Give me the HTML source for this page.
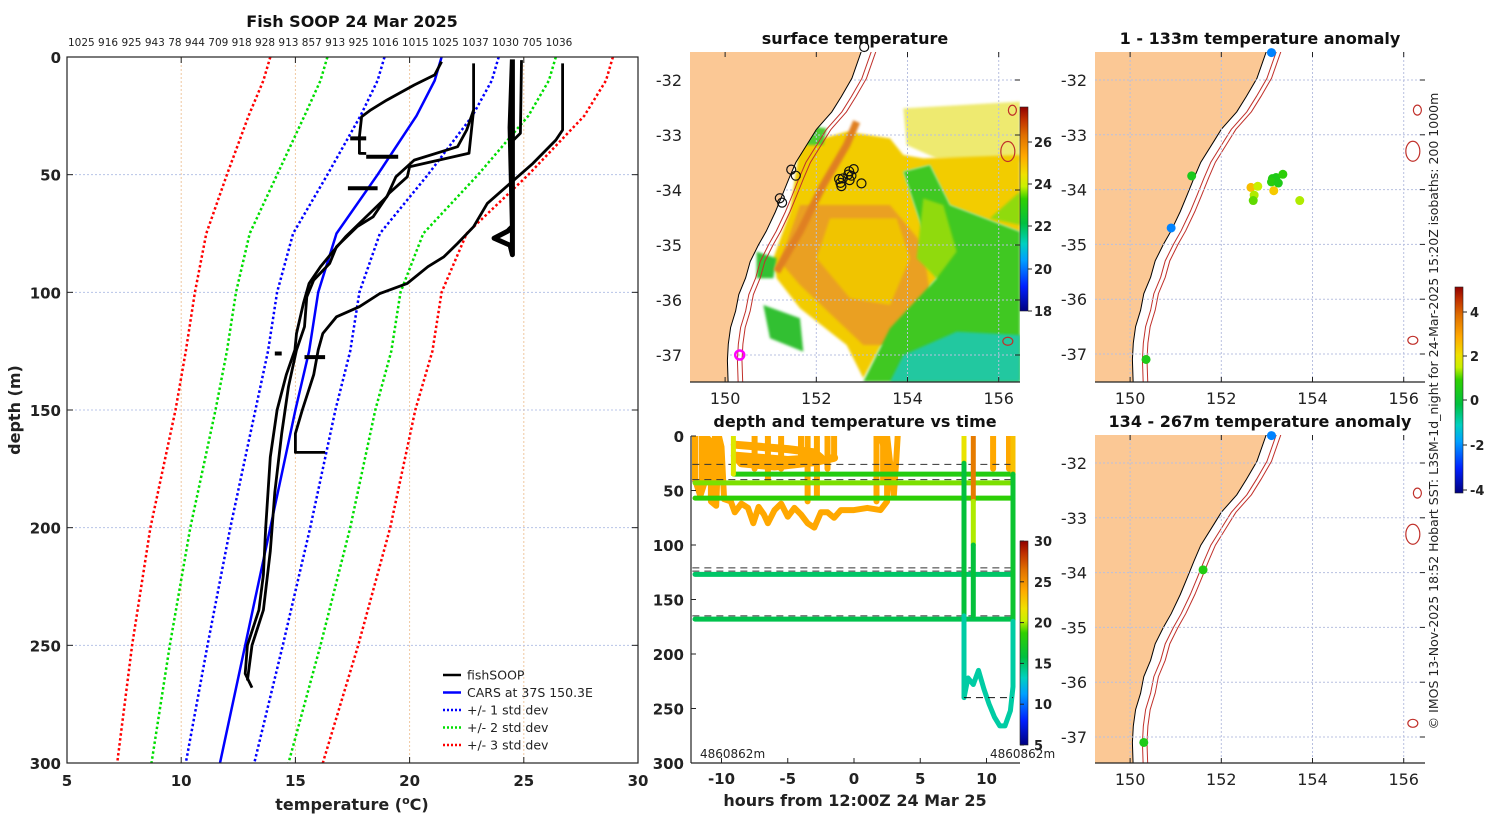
<!DOCTYPE html>
<html><head><meta charset="utf-8"><title>Fish SOOP 24 Mar 2025</title>
<style>
html,body{margin:0;padding:0;background:#fff;}
svg{display:block;font-family:"DejaVu Sans","Liberation Sans",sans-serif;}
.tk{font-size:15px;font-weight:bold;fill:#222;}
.mt{font-size:15px;fill:#222;}
.ttl{font-size:16px;font-weight:bold;fill:#111;}
</style></head>
<body>
<svg id="fig" width="1500" height="820" viewBox="0 0 1500 820">
<defs>
<linearGradient id="cmap" x1="0" y1="1" x2="0" y2="0">
<stop offset="0" stop-color="#000080"/><stop offset="0.12" stop-color="#0020ff"/>
<stop offset="0.25" stop-color="#00a0ff"/><stop offset="0.33" stop-color="#00d0c0"/>
<stop offset="0.43" stop-color="#00c040"/><stop offset="0.55" stop-color="#30d000"/>
<stop offset="0.61" stop-color="#c8f000"/><stop offset="0.67" stop-color="#f0e000"/>
<stop offset="0.76" stop-color="#ffa800"/><stop offset="0.86" stop-color="#e07000"/>
<stop offset="0.94" stop-color="#c03000"/><stop offset="1" stop-color="#900000"/>
</linearGradient>
<filter id="blur"><feGaussianBlur stdDeviation="4"/></filter>
<clipPath id="clip2"><rect x="690" y="52" width="330" height="330"/></clipPath>
<clipPath id="clip4"><rect x="1095" y="52" width="330" height="330"/></clipPath>
<clipPath id="clip5"><rect x="1095" y="435" width="330" height="328"/></clipPath>
<clipPath id="clip3"><rect x="691" y="436" width="329" height="327"/></clipPath>
</defs>
<g id="layer"></g>
</svg>
<script>
// ---------------- data: profile chart ----------------
const cDepths=[0,10,25,50,75,100,125,150,200,250,300];
const carsMean=[21.4,21.1,20.3,18.6,16.8,16.0,15.6,15.0,13.9,12.8,11.7];
const carsStd=[2.5,2.5,2.45,2.2,1.9,1.8,1.8,1.75,1.75,1.65,1.5];
const profA=[[21.4,2],[21.1,7.6],[20.2,11.9],[19.0,18.3],[18.3,22.5],[17.9,25.4],[17.8,33.9],[17.8,40.9],[18.1,41]];
const profB=[[22.8,2.7],[22.8,22.5],[22.5,31],[22.1,38.1],[20.2,43.8],[19.4,50.9],[19.0,59.4],[18.1,67.9],[17.2,76.4],[16.7,82],[16.1,89.1],[15.6,96.2],[15.35,104.7],[15.05,117.5],[14.98,124.5],[14.6,135],[14.2,150],[13.9,170],[13.7,200],[13.6,220],[13.4,235],[12.9,250],[12.8,262],[13.1,268]];
const profC=[[22.8,22.5],[22.6,40.9],[20.0,46.6],[19.9,50.9],[19.1,57.9],[18.4,67.9],[17.7,72.1],[16.8,80.6],[16.5,87.7],[15.8,94.8],[15.5,101.9],[15.4,114.6],[15.05,124.5],[14.7,140],[14.4,160],[14.1,185],[13.9,210],[13.6,235],[13.1,250],[12.9,265]];
const profD=[[26.7,2.7],[26.7,31],[26.4,35.3],[25.4,45.2],[24.4,53.7],[23.4,62.2],[22.8,72.1],[22.1,79.2],[21.5,84.9],[20.8,89.1],[19.9,96.2],[18.7,100.5],[17.8,106.1],[16.8,110.4],[16.2,117.5],[16.0,124.5],[15.8,135],[15.3,150],[15.0,160],[15.0,168],[16.3,168]];
const profE=[[24.5,1],[24.5,84],[24.4,80],[23.7,77],[24.3,74],[24.5,72],[24.4,30],[24.5,1]];
const profF=[[24.9,1.3],[24.85,32.4],[24.4,36.7]];
const segs=[[[17.4,34.6],[18.1,34.6]],[[18.1,42.4],[19.5,42.4]],[[17.3,55.8],[18.6,55.8]],[[14.1,126],[14.4,126]],[[15.4,127.5],[16.3,127.5]]];
const topLabels="1025 916 925 943 78 944 709 918 928 913 857 913 925 1016 1015 1025 1037 1030 705 1036";
const tTicks=[5,10,15,20,25,30];
const dTicks=[0,50,100,150,200,250,300];

// ---------------- data: depth-time ----------------
const hTicks=[-10,-5,0,5,10];
const dtTicks=[0,50,100,150,200,250,300];
const bandDepths=[35,43,57,127,168];
const bandStart=[-9.1,-12,-12,-12,-12];
const bandEnd=[12,12,12,12,12];
const bandTemps=[18,19.5,18.5,15,15.5];
const dashDepths=[26,40,42,121,124,165];
const orangeTrace=[[-12,0],[-12,40],[-11.6,55],[-11.2,40],[-11.2,0],[-10.8,5],[-10.8,60],[-10.4,64],[-10.2,0],[-10,10],[-9.8,58],[-9.3,60],[-9,70],[-8.5,62],[-8,66],[-7.6,80],[-7.2,65],[-6.8,72],[-6.5,80],[-6,68],[-5.5,62],[-5,74],[-4.5,66],[-4,72],[-3.5,80],[-3,84],[-2.5,70],[-2,70],[-1.5,75],[-1,68],[0,68],[1,66],[2,68],[2.5,60],[2.5,20],[2,0],[2.5,0],[3,55],[3.2,20],[3.3,0]];
const orangeBand=[[-9,8],[-7,10],[-5,12],[-3,15],[-2.5,20],[-5,22],[-7,20],[-9,18],[-8.5,25],[-6,28],[-3,24],[-1.5,20]];
const deepCurve=[[8.3,165],[8.3,240],[8.6,222],[9.0,228],[9.4,215],[9.8,232],[10.2,246],[10.6,258],[11.0,266],[11.4,266],[11.8,252],[12,230],[12,170]];
const orangeSpikes=[[10.5,0,30],[11.7,0,30],[-5.5,0,30],[-4,0,25],[-2,0,30],[-1.5,0,20],[1.7,0,60],[-11.5,0,45],[-10.5,0,50],[-7.5,0,30],[-6.5,0,40],[-3.5,0,60],[-2.8,0,55],[2.2,0,40]];

// ---------------- data: maps ----------------
const coast=[[153.05,-31.3],[153.0,-31.45],[152.78,-31.97],[152.55,-32.3],[152.34,-32.58],[152.0,-32.9],[151.85,-33.1],[151.55,-33.5],[151.4,-33.79],[151.25,-34.1],[151.1,-34.4],[150.9,-34.75],[150.73,-35.0],[150.55,-35.3],[150.45,-35.6],[150.3,-35.9],[150.23,-36.2],[150.12,-36.5],[150.07,-36.8],[150.05,-37.1],[150.07,-37.6]];
const isoOffsets=[0.22,0.32];
const sstCircles=[[152.5,-33.8],[152.58,-33.79],[152.53,-33.87],[152.55,-33.93],[152.72,-33.66],[152.7,-33.72],[152.77,-33.74],[152.73,-33.82],[152.82,-33.62],[152.99,-33.88],[151.45,-33.63],[151.55,-33.74],[151.2,-34.15],[151.25,-34.23],[153.05,-31.4]];
const anomLon=[153.1,151.35,150.9,152.65,152.72,152.8,153.12,153.2,153.1,153.25,153.35,153.15,152.7,153.72,150.35];
const anomLat=[-31.5,-33.75,-34.7,-33.96,-34.1,-33.94,-33.8,-33.78,-33.86,-33.88,-33.72,-34.02,-34.2,-34.2,-37.1];
const anomVal=[-2.4,0.2,-2.4,2.4,1.2,1.3,0.4,0.3,0.5,0.3,0.6,2.2,0.9,1.2,0.3];
const anom2Lon=[153.1,151.6,150.3];
const anom2Lat=[-31.5,-33.95,-37.1];
const anom2Val=[-2.4,0.4,0.3];
const lonTicks=[150,152,154,156];
const latTicks=[-32,-33,-34,-35,-36,-37];

// ---------------- helpers ----------------
const NS="http://www.w3.org/2000/svg";
const L=document.getElementById('layer');
function mk(tag,attrs,parent){const e=document.createElementNS(NS,tag);for(const k in attrs)e.setAttribute(k,attrs[k]);(parent||L).appendChild(e);return e;}
function txt(x,y,s,cls,anchor,parent){const t=mk('text',{x:x,y:y,class:cls,'text-anchor':anchor||'middle'},parent);t.textContent=s;return t;}
const stops=[[0,[0,0,128]],[0.12,[0,32,255]],[0.25,[0,160,255]],[0.33,[0,208,192]],[0.43,[0,192,64]],[0.55,[48,208,0]],[0.61,[200,240,0]],[0.67,[240,224,0]],[0.76,[255,168,0]],[0.86,[224,112,0]],[0.94,[192,48,0]],[1,[144,0,0]]];
function cm(f){f=Math.max(0,Math.min(1,f));for(let i=1;i<stops.length;i++){if(f<=stops[i][0]){const a=stops[i-1],b=stops[i];const u=(f-a[0])/(b[0]-a[0]);const c=a[1].map((v,j)=>Math.round(v+(b[1][j]-v)*u));return 'rgb('+c.join(',')+')';}}return 'rgb(144,0,0)';}

// ---------------- panel 1: profiles ----------------
const P1={x0:67,x1:638,y0:57,y1:763};
const tx=t=>P1.x0+(t-5)/25*(P1.x1-P1.x0);
const dy=d=>P1.y0+d/300*(P1.y1-P1.y0);
const g1=mk('g',{});


tTicks.forEach(t=>{const l=mk('line',{x1:tx(t),x2:tx(t),y1:P1.y0,y2:P1.y1,stroke:'#f0c8a0','stroke-width':1,'stroke-dasharray':'2,2'},g1);});
dTicks.forEach(d=>{const l=mk('line',{x1:P1.x0,x2:P1.x1,y1:dy(d),y2:dy(d),stroke:'#b8c4e8','stroke-width':1,'stroke-dasharray':'2,2'},g1);});
function pl(points,stroke,w,dash,name,g){const d=points.map(p=>tx(p[0]).toFixed(1)+','+dy(p[1]).toFixed(1)).join(' ');const e=mk('polyline',{points:d,fill:'none',stroke:stroke,'stroke-width':w,'stroke-linejoin':'round','stroke-dasharray':dash||'none'},g);return e;}
[[3,'#ff0000','red'],[2,'#00dd00','green'],[1,'#0000ff','blue']].forEach(([k,c,n])=>{
  pl(cDepths.map((d,i)=>[carsMean[i]-k*carsStd[i],d]),c,2.5,'2.5,2.5','std-'+k+'-lower-'+n,g1);
  pl(cDepths.map((d,i)=>[carsMean[i]+k*carsStd[i],d]),c,2.5,'2.5,2.5','std-'+k+'-upper-'+n,g1);
});
pl(cDepths.map((d,i)=>[carsMean[i],d]),'#0000ff',2.5,null,'cars-mean-line',g1);
[profA,profB,profC,profD,profF].forEach((p,i)=>pl(p,'#000',2.8,null,'fishsoop-profile-'+i,g1));
pl(profE,'#000',5,null,'fishsoop-profile-vertical',g1);
segs.forEach((s,i)=>pl(s,'#000',4,null,'fishsoop-segment-'+i,g1));
mk('rect',{x:P1.x0,y:P1.y0,width:P1.x1-P1.x0,height:P1.y1-P1.y0,fill:'none',stroke:'#222','stroke-width':1.2},g1);
tTicks.forEach(t=>{mk('line',{x1:tx(t),x2:tx(t),y1:P1.y1,y2:P1.y1-6,stroke:'#222'},g1);mk('line',{x1:tx(t),x2:tx(t),y1:P1.y0,y2:P1.y0+6,stroke:'#222'},g1);const e=txt(tx(t),P1.y1+23,String(t),'tk','middle',g1);});
dTicks.forEach(d=>{mk('line',{x1:P1.x0,x2:P1.x0+6,y1:dy(d),y2:dy(d),stroke:'#222'},g1);mk('line',{x1:P1.x1,x2:P1.x1-6,y1:dy(d),y2:dy(d),stroke:'#222'},g1);const e=txt(P1.x0-6,dy(d)+6,String(d),'tk','end',g1);});
{const e=txt(352,27,'Fish SOOP 24 Mar 2025','ttl','middle',g1);}
{const e=txt(68,46,topLabels,'mt','start',g1);e.setAttribute('style','font-size:10.5px');}
{const e=txt(352,810,'','tk','middle',g1);e.setAttribute('style','font-size:16px');
 const a=mk('tspan',{},e);a.textContent='temperature (';const b=mk('tspan',{dy:-6,'font-size':'11'},e);b.textContent='o';const c=mk('tspan',{dy:6},e);c.textContent='C)';}
{const e=txt(20,410,'depth (m)','tk','middle',g1);e.setAttribute('transform','rotate(-90 20 410)');e.setAttribute('style','font-size:16px');}
const leg=[['fishSOOP','#000',null],['CARS at 37S 150.3E','#0000ff',null],['+/- 1 std dev','#0000ff','2,2'],['+/- 2 std dev','#00dd00','2,2'],['+/- 3 std dev','#ff0000','2,2']];
leg.forEach((l,i)=>{const y=675+i*17.5;const gg=mk('g',{},g1);
 mk('line',{x1:443,x2:461,y1:y,y2:y,stroke:l[1],'stroke-width':2.5,'stroke-dasharray':l[2]||'none'},gg);const t=txt(467,y+4.5,l[0],'mt','start',gg);t.setAttribute('style','font-size:12.5px');});

// ---------------- map helpers ----------------
function mapper(x0,y0,lonAt,yLat32,pxLon,pxLat){return {x:lon=>x0+(lon-lonAt)*pxLon,y:lat=>yLat32+(-32-lat)*pxLat};}
function drawMap(g,M,clipId,box){
 const gc=mk('g',{'clip-path':'url(#'+clipId+')'},g);
 const pts=coast.map(c=>M.x(c[0]).toFixed(1)+','+M.y(c[1]).toFixed(1));
 const land=mk('polygon',{points:pts.join(' ')+' '+(box.x-5)+','+(box.y+box.h+20)+' '+(box.x-5)+','+(box.y-20),fill:'#fbc895',stroke:'#000','stroke-width':1},gc);
 
 return gc;}
function gridAxes(g,M,box,clipG,labelsBottom){
 lonTicks.forEach(lo=>{mk('line',{x1:M.x(lo),x2:M.x(lo),y1:box.y,y2:box.y+box.h,stroke:'#b8c0e0','stroke-dasharray':'2,2'},clipG);mk('line',{x1:M.x(lo),x2:M.x(lo),y1:box.y+box.h,y2:box.y+box.h-5,stroke:'#222'},g);mk('line',{x1:M.x(lo),x2:M.x(lo),y1:box.y,y2:box.y+5,stroke:'#222'},g);
  if(labelsBottom){const e=txt(M.x(lo),box.y+box.h+22,String(lo),'mt','middle',g);e.setAttribute('style','font-size:16px');}});
 latTicks.forEach(la=>{mk('line',{x1:box.x,x2:box.x+box.w,y1:M.y(la),y2:M.y(la),stroke:'#b8c0e0','stroke-dasharray':'2,2'},clipG);mk('line',{x1:box.x+box.w,x2:box.x+box.w-5,y1:M.y(la),y2:M.y(la),stroke:'#222'},g);
  const e=txt(box.x-8,M.y(la)+6,String(la),'mt','end',g);e.setAttribute('style','font-size:16px');});
 mk('line',{x1:box.x,x2:box.x+box.w,y1:box.y+box.h,y2:box.y+box.h,stroke:'#222','stroke-width':1.2},g);
}
function isobaths(gc,M){isoOffsets.forEach((o,i)=>{const e=mk('polyline',{points:coast.map(c=>M.x(c[0]+o)+','+M.y(c[1])).join(' '),fill:'none',stroke:'#c0302a','stroke-width':1},gc);});}
function islands(gc,M){[[156.2,-33.3,7,10],[156.3,-32.55,4,5],[156.2,-36.75,5,4]].forEach(s=>{const e=mk('ellipse',{cx:M.x(s[0]),cy:M.y(s[1]),rx:s[2],ry:s[3],fill:'none',stroke:'#c0302a','stroke-width':1.2},gc);});}

// ---------------- panel 2: SST ----------------
const box2={x:690,y:52,w:330,h:330};
const M2=mapper(690,52,149.23,80,45.6,55);
const g2=mk('g',{});
{const gc=mk('g',{'clip-path':'url(#clip2)'},g2);
 const field=mk('g',{transform:'translate(690,45) scale(0.3333)'},gc);
 const polys=[['#eeea70','640,190 990,170 990,350 740,340 650,300'],
  ['#f2cc00','330,300 470,260 600,280 640,330 700,340 990,330 990,560 780,480 720,360 640,380 700,560 740,700 600,850 520,1000 470,900 330,790 260,700 250,640 300,500'],
  ['#eaa020','330,480 600,480 700,600 720,750 600,900 520,900 330,720 270,650'],['#f0c400','420,520 620,520 660,640 600,780 480,760 380,640'],
  ['#40c820','640,380 720,360 780,480 990,560 990,1010 520,1010 600,850 740,700 700,560'],['#90da10','700,460 760,480 800,620 740,700 680,640'],
  ['#90da10','990,440 990,540 900,520'],
  ['#20c8a0','640,930 800,860 990,870 990,1010 600,1010'],['#30c030','220,780 330,820 340,920 240,880'],['#30c030','200,620 260,640 250,700 200,700'],
  ['#50cc30','340,240 410,250 400,300 350,300']];
 polys.forEach(p=>{mk('polygon',{points:p[1],fill:p[0],filter:'url(#blur)'},field);});
 mk('polyline',{points:'260,680 330,560 400,420 470,300 500,230',fill:'none',stroke:'#e08020','stroke-width':22,filter:'url(#blur)'},field);
 const land=drawMap(g2,M2,'clip2',box2);
 isobaths(land,M2);islands(land,M2);
 gridAxes(g2,M2,box2,gc,true);
 sstCircles.forEach(c=>{const e=mk('circle',{cx:M2.x(c[0]),cy:M2.y(c[1]),r:4.5,fill:'none',stroke:'#111','stroke-width':1.2},g2);});
 const mg=mk('circle',{cx:M2.x(150.32),cy:M2.y(-37.0),r:4.5,fill:'none',stroke:'#ff00ff','stroke-width':2.5},g2);
 const t=txt(855,44,'surface temperature','ttl','middle',g2);
 const cb=mk('rect',{x:1020,y:107,width:8,height:204,fill:'url(#cmap)',stroke:'#222','stroke-width':0.6},g2);
 [[26,142],[24,184],[22,226],[20,269],[18,311]].forEach(v=>{mk('line',{x1:1028,x2:1032,y1:v[1],y2:v[1],stroke:'#222'},g2);const e=txt(1034,v[1]+5,String(v[0]),'mt','start',g2);e.setAttribute('style','font-size:13px;font-weight:bold');});
}

// ---------------- panel 3: depth-time ----------------
const P3={x0:691,x1:1020,y0:436,y1:763};
const hx=h=>854+h*13.25;
const ty=d=>P3.y0+d/300*(P3.y1-P3.y0);
const tcol=t=>cm((t-5)/25);
const g3=mk('g',{});
{const gc=mk('g',{'clip-path':'url(#clip3)'},g3);
 function tl(points,col,w,name){const e=mk('polyline',{points:points.map(p=>hx(p[0]).toFixed(1)+','+ty(p[1]).toFixed(1)).join(' '),fill:'none',stroke:col,'stroke-width':w,'stroke-linejoin':'round','stroke-linecap':'round'},gc);return e;}
 tl(orangeTrace,tcol(24),6,'surface-trace');
 tl(orangeBand,tcol(24),8,'surface-band');
 orangeSpikes.forEach(s=>tl([[s[0],s[1]],[s[0],s[2]]],tcol(24),6,'surface-spike'));
 dashDepths.forEach(d=>{const e=mk('line',{x1:hx(-12.2),x2:hx(12.1),y1:ty(d),y2:ty(d),stroke:'#333','stroke-width':1,'stroke-dasharray':'7,5'},gc);});
 bandDepths.forEach((d,i)=>tl([[bandStart[i],d],[bandEnd[i],d]],tcol(bandTemps[i]),5,'depth-band'));
 tl([[8.3,0],[8.3,25]],tcol(21.5),5,'vertical-track');
 tl([[8.3,25],[8.3,165]],tcol(16),5,'vertical-track');
 tl([[9.0,0],[9.0,60]],tcol(26),5,'vertical-track');
 tl([[9.0,60],[9.0,100]],tcol(20),5,'vertical-track');
 tl([[9.0,100],[9.0,165]],tcol(16),5,'vertical-track');
 tl([[12,0],[12,35]],tcol(23),5,'vertical-track');
 tl([[12,35],[12,170]],tcol(16.5),5,'vertical-track');
 tl(deepCurve,tcol(13.8),5,'deep-trace');
 tl([[-9.1,0],[-9.1,35]],tcol(21),5,'vertical-track');
 mk('line',{x1:hx(8.3),x2:hx(12),y1:ty(240),y2:ty(240),stroke:'#111','stroke-dasharray':'7,5'},gc);
 mk('line',{x1:P3.x0,x2:P3.x0,y1:P3.y0,y2:P3.y1,stroke:'#222','stroke-width':1.2},g3);
 mk('line',{x1:P3.x0,x2:P3.x1,y1:P3.y1,y2:P3.y1,stroke:'#222','stroke-width':1.2},g3);
 hTicks.forEach(h=>{mk('line',{x1:hx(h),x2:hx(h),y1:P3.y1,y2:P3.y1-5,stroke:'#222'},g3);const e=txt(hx(h),P3.y1+21,String(h),'tk','middle',g3);});
 dtTicks.forEach(d=>{mk('line',{x1:P3.x0,x2:P3.x0+5,y1:ty(d),y2:ty(d),stroke:'#222'},g3);const e=txt(P3.x0-7,ty(d)+6,String(d),'tk','end',g3);});
 const t=txt(855,427,'depth and temperature vs time','ttl','middle',g3);
 const xa=txt(855,806,'hours from 12:00Z 24 Mar 25','tk','middle',g3);xa.setAttribute('style','font-size:16px');
 const a1=txt(700,758,'4860862m','mt','start',g3);a1.setAttribute('style','font-size:12px');
 const a2=txt(990,758,'4860862m','mt','start',g3);a2.setAttribute('style','font-size:12px');
 const cb=mk('rect',{x:1020,y:541,width:8,height:204,fill:'url(#cmap)',stroke:'#222','stroke-width':0.6},g3);
 [30,25,20,15,10,5].forEach(v=>{const y=745-(v-5)/25*204;mk('line',{x1:1020,x2:1024,y1:y,y2:y,stroke:'#222'},g3);const e=txt(1034,y+5,String(v),'mt','start',g3);e.setAttribute('style','font-size:13px;font-weight:bold');});
}

// ---------------- panels 4/5: anomaly maps ----------------
function anomPanel(box,yLat32,clipId,title,titleY,lons,lats,vals,name){
 const M=mapper(box.x,box.y,149.23,yLat32,45.6,54.8);
 const g=mk('g',{});
 const gc=drawMap(g,M,clipId,box);
 isobaths(gc,M);islands(gc,M);
 gridAxes(g,M,box,gc,true);
 lons.forEach((lo,i)=>{const e=mk('circle',{cx:M.x(lo),cy:M.y(lats[i]),r:4.5,fill:cm((vals[i]+4.5)/9.5)},g);});
 const t=txt(1260,titleY,title,'ttl','middle',g);
}
anomPanel({x:1095,y:52,w:330,h:330},80,'clip4','1 - 133m temperature anomaly',44,anomLon,anomLat,anomVal,'anomaly-map-shallow');
anomPanel({x:1095,y:435,w:330,h:328},463,'clip5','134 - 267m temperature anomaly',427,anom2Lon,anom2Lat,anom2Val,'anomaly-map-deep');
{const cb=mk('rect',{x:1455,y:287,width:8,height:206,fill:'url(#cmap)',stroke:'#222','stroke-width':0.6});
 [[4,312],[2,356],[0,400],[-2,445],[-4,490]].forEach(v=>{mk('line',{x1:1463,x2:1467,y1:v[1],y2:v[1],stroke:'#222'});const e=txt(1470,v[1]+5,String(v[0]),'mt','start');e.setAttribute('style','font-size:13px;font-weight:bold');});
 const c=txt(1438,411,'© IMOS 13-Nov-2025 18:52 Hobart SST: L3SM-1d_night for 24-Mar-2025 15:20Z isobaths: 200  1000m','mt','middle');
 c.setAttribute('transform','rotate(-90 1438 411)');c.setAttribute('style','font-size:12.5px');}
</script>
</body></html>
